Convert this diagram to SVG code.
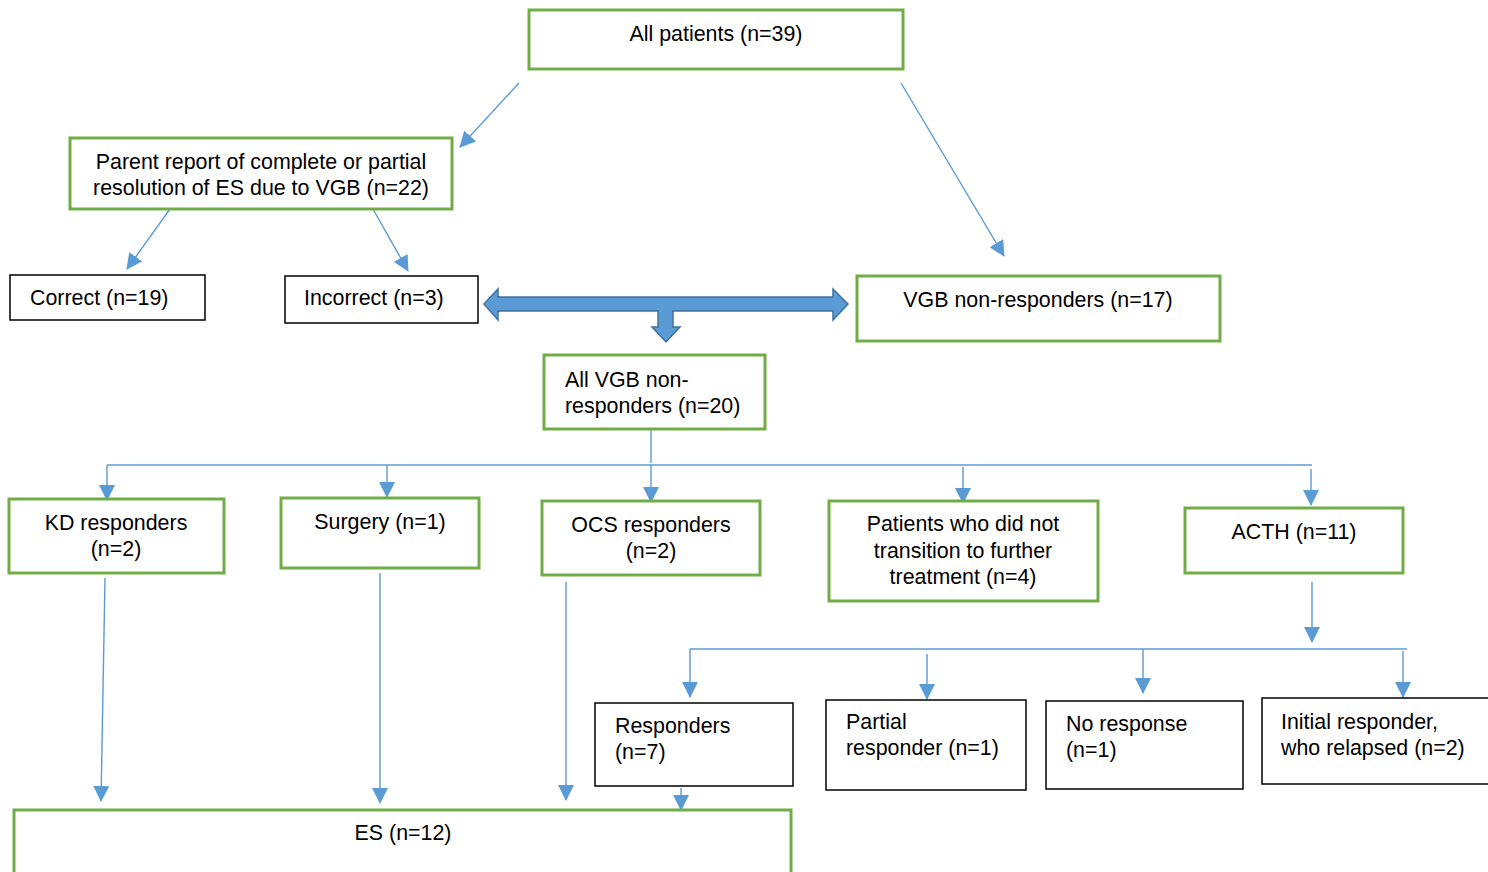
<svg xmlns="http://www.w3.org/2000/svg" width="1488" height="872" viewBox="0 0 1488 872">
<style>
.g{fill:#fff;stroke:#70AD47;stroke-width:3}
.b{fill:#fff;stroke:#000;stroke-width:1.5}
text{font-family:"Liberation Sans",Arial,sans-serif;font-size:21.4px;fill:#000}
.c{text-anchor:middle}
.ln{stroke:#5B9BD5;stroke-width:1.4;fill:none}
.ar{stroke:#5B9BD5;stroke-width:1.4;fill:none;marker-end:url(#ah)}
</style>
<defs>
<marker id="ah" markerUnits="userSpaceOnUse" markerWidth="16" markerHeight="16" viewBox="0 0 16 16" refX="15" refY="8" orient="auto">
<path d="M0,0 L16,8 L0,16 Z" fill="#5B9BD5"/>
</marker>
</defs>
<rect width="1488" height="872" fill="#fff"/>
<g id="connectors">
<line class="ar" x1="519" y1="83" x2="460" y2="147"/>
<line class="ar" x1="901" y1="83" x2="1004" y2="256"/>
<line class="ar" x1="170" y1="209" x2="127" y2="269"/>
<line class="ar" x1="373" y1="209" x2="408" y2="271"/>
<path d="M484,304 L498,289 L498,297 L833,297 L833,289 L848,304 L833,320 L833,311 L673,311 L673,327 L680,327 L666,342 L652,327 L658,327 L658,311 L498,311 L498,320 Z" fill="#5B9BD5" stroke="#41719C" stroke-width="1.5"/>
<line class="ln" x1="651" y1="429" x2="651" y2="463"/>
<line class="ln" x1="107" y1="465" x2="1312" y2="465"/>
<line class="ar" x1="107" y1="465" x2="107" y2="500"/>
<line class="ar" x1="387" y1="465" x2="387" y2="497"/>
<line class="ar" x1="651" y1="465" x2="651" y2="502"/>
<line class="ar" x1="963" y1="467" x2="963" y2="503"/>
<line class="ar" x1="1311" y1="469" x2="1311" y2="505"/>
<line class="ar" x1="1312" y1="582" x2="1312" y2="642"/>
<line class="ln" x1="690" y1="649" x2="1407" y2="649"/>
<line class="ar" x1="690" y1="649" x2="690" y2="697"/>
<line class="ar" x1="927" y1="654" x2="927" y2="699"/>
<line class="ar" x1="1143" y1="649" x2="1143" y2="693"/>
<line class="ar" x1="1403" y1="651" x2="1403" y2="697"/>
<line class="ar" x1="105" y1="578" x2="101" y2="801"/>
<line class="ar" x1="380" y1="573" x2="380" y2="803"/>
<line class="ar" x1="566" y1="582" x2="566" y2="800"/>
<line class="ar" x1="681" y1="788" x2="681" y2="810"/>
</g>
<g id="n-all"><rect class="g" x="529" y="10" width="374" height="59"/><text class="c" x="716" y="41">All patients (n=39)</text></g>
<g id="n-parent"><rect class="g" x="70" y="138" width="382" height="71"/><text class="c" x="261" y="169">Parent report of complete or partial</text><text class="c" x="261" y="195">resolution of ES due to VGB (n=22)</text></g>
<g id="n-correct"><rect class="b" x="10" y="275" width="195" height="45"/><text x="30" y="305">Correct (n=19)</text></g>
<g id="n-incorrect"><rect class="b" x="285" y="276" width="193" height="47"/><text x="304" y="305">Incorrect (n=3)</text></g>
<g id="n-vgbnon"><rect class="g" x="857" y="276" width="363" height="65"/><text class="c" x="1038" y="307">VGB non-responders (n=17)</text></g>
<g id="n-allvgb"><rect class="g" x="544" y="355" width="221" height="74"/><text x="565" y="387">All VGB non-</text><text x="565" y="413">responders (n=20)</text></g>
<g id="n-kd"><rect class="g" x="9" y="499" width="215" height="74"/><text class="c" x="116" y="530">KD responders</text><text class="c" x="116" y="556">(n=2)</text></g>
<g id="n-surgery"><rect class="g" x="281" y="498" width="198" height="70"/><text class="c" x="380" y="529">Surgery (n=1)</text></g>
<g id="n-ocs"><rect class="g" x="542" y="501" width="218" height="74"/><text class="c" x="651" y="532">OCS responders</text><text class="c" x="651" y="558">(n=2)</text></g>
<g id="n-patients"><rect class="g" x="829" y="501" width="269" height="100"/><text class="c" x="963" y="531">Patients who did not</text><text class="c" x="963" y="558">transition to further</text><text class="c" x="963" y="584">treatment (n=4)</text></g>
<g id="n-acth"><rect class="g" x="1185" y="508" width="218" height="65"/><text class="c" x="1294" y="539">ACTH (n=11)</text></g>
<g id="n-resp"><rect class="b" x="595" y="703" width="198" height="83"/><text x="615" y="733">Responders</text><text x="615" y="759">(n=7)</text></g>
<g id="n-partial"><rect class="b" x="826" y="700" width="200" height="90"/><text x="846" y="729">Partial</text><text x="846" y="755">responder (n=1)</text></g>
<g id="n-noresp"><rect class="b" x="1046" y="701" width="197" height="88"/><text x="1066" y="731">No response</text><text x="1066" y="757">(n=1)</text></g>
<g id="n-initial"><rect class="b" x="1262" y="698" width="230" height="86"/><text x="1281" y="729">Initial responder,</text><text x="1281" y="755">who relapsed (n=2)</text></g>
<g id="n-es"><rect class="g" x="14" y="810" width="777" height="80"/><text class="c" x="403" y="840">ES (n=12)</text></g>
</svg>
